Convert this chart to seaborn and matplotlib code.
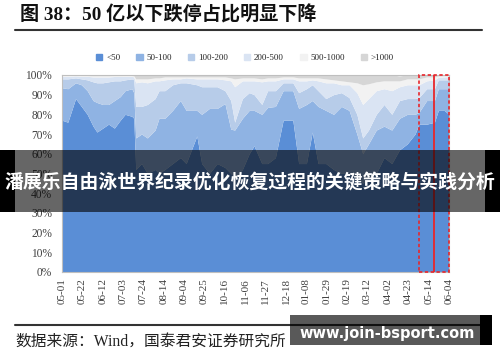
import numpy as np
import seaborn as sns
import matplotlib.pyplot as plt
from matplotlib.patches import Rectangle, Patch

# day offset from 05-01
days = [0, 6, 14, 20, 26, 32, 36, 42, 48, 54, 60, 65, 72, 74,
        76, 82, 88, 96, 100, 106, 114, 122, 128, 139, 144, 152, 160, 168,
        174, 178, 186, 193, 198, 206, 212, 220, 228, 238, 244, 252, 258, 264,
        272, 280, 288, 296, 304, 310, 316, 324, 332, 340, 348, 356, 364, 368,
        376, 384, 388, 394, 399]

# share of limit-down stocks by market cap bucket (%)
lt50 = [77, 76, 88, 84, 80, 74, 71, 73, 75, 73, 77, 80, 79, 78,
        52, 55, 50, 52, 50, 52, 55, 58, 55, 69, 55, 50, 55, 53,
        50, 48, 52, 60, 64, 55, 55, 58, 77, 77, 55, 55, 71, 55,
        55, 52, 50, 50, 48, 45, 48, 50, 58, 55, 62, 65, 70, 75,
        75, 76, 82, 82, 80]
b50_100 = [16.5, 17, 8, 11, 12, 13, 15, 12, 10, 14, 12, 12, 14, 13,
           16, 15, 18, 20, 28, 26, 27, 29, 27, 13, 25, 33, 28, 32.5,
           22.5, 24, 26, 22, 18, 25, 28.5, 26, 15, 15, 28, 30, 16, 29,
           27, 28, 34, 32, 22, 15, 17, 22, 16, 17, 16, 15, 10, 6,
           12, 11, 11, 11, 13]
b100_200 = [4.5, 5, 2.5, 3, 5.5, 9.5, 10, 11, 11.5, 10, 8, 5.5, 5, 6.5,
            16, 14, 17, 16, 14, 14, 13, 9, 14, 13, 14, 11, 11, 6.5,
            14.5, 4, 10, 9, 8, 5, 8.5, 8, 4, 4, 8, 8, 8, 8,
            6, 10, 7, 6.5, 10, 8, 7, 8, 11, 8, 9, 8, 8, 7.5,
            6, 6, 4.5, 4.5, 4.5]
b200_500 = [1.3, 1.3, 1, 1.3, 1.8, 2.5, 3, 3, 2.5, 2.2, 2.2, 1.8, 1.3, 1.5,
            12, 12.5, 11, 9, 5, 5.5, 3, 2, 2.5, 3, 4, 4, 4, 5.5,
            10, 18, 9, 6, 7, 11.5, 5, 5, 2, 2, 6, 4, 2.5, 5,
            8, 6, 4, 6.5, 11, 17, 16, 12, 8, 12, 7, 7, 7, 6.5,
            4, 4.5, 1.3, 1.5, 1.5]
b500_1000 = [0.4, 0.4, 0.3, 0.4, 0.4, 0.6, 0.6, 0.6, 0.6, 0.5, 0.5, 0.4, 0.4, 0.6,
             2, 1.5, 2, 1.5, 1.5, 1.5, 1, 1, 0.5, 1, 1, 1, 1, 1.5,
             1.5, 4, 1.5, 1.5, 1.5, 1.5, 1.5, 1.5, 1, 1, 1.5, 1.5, 1, 1.5,
             2, 1.5, 2, 1.5, 5, 10, 7.5, 4.5, 4, 5, 3, 3, 3, 3,
             2, 1.5, 0.7, 0.6, 0.6]
gt1000 = [0.3, 0.3, 0.2, 0.3, 0.3, 0.4, 0.4, 0.4, 0.4, 0.3, 0.3, 0.3, 0.3, 0.4,
          2, 2, 2, 1.5, 1.5, 1, 1, 1, 1, 1, 1, 1, 1, 1,
          1.5, 2, 1.5, 1.5, 1.5, 2, 1.5, 1.5, 1, 1, 1.5, 1.5, 1.5, 1.5,
          2, 2.5, 3, 3.5, 4, 5, 4.5, 3.5, 3, 3, 2.5, 2, 2, 2,
          1, 1, 0.5, 0.4, 0.4]

labels = ["<50", "50-100", "100-200", "200-500", "500-1000", ">1000"]
colors = ["#5A8ED6", "#8FB3E3", "#B7CCE9", "#DAE4F3", "#F2F2F2", "#D6D6D6"]

tick_days = list(range(0, 400, 21))
tick_labels = ["05-01", "05-22", "06-12", "07-03", "07-24", "08-14", "09-04",
               "09-25", "10-16", "11-06", "11-27", "12-18", "01-08", "01-29",
               "02-19", "03-12", "04-02", "04-23", "05-14", "06-04"]

sns.set_style("white")
serif = ["Liberation Serif", "Noto Sans CJK SC"]

fig = plt.figure(figsize=(5, 3.62), dpi=100)
ax = fig.add_axes([0.124, 0.249, 0.774, 0.544])

ax.stackplot(days, lt50, b50_100, b100_200, b200_500, b500_1000, gt1000,
             colors=colors, linewidth=0)
ax.set_xlim(0, 399)
ax.set_ylim(0, 100)

ax.set_yticks(range(0, 101, 10))
ax.set_yticklabels([f"{v}%" for v in range(0, 101, 10)],
                   family="Liberation Serif", fontsize=8.3, color="#404040")
ax.set_xticks(tick_days)
ax.set_xticklabels(tick_labels, rotation=90, family="Liberation Serif",
                   fontsize=8, color="#404040")
ax.tick_params(axis="x", direction="out", length=3, color="#A0A0A0", width=0.6, pad=1.5)
ax.tick_params(axis="y", length=0, pad=7)
for s in ax.spines.values():
    s.set_color("#BFBFBF")
    s.set_linewidth(0.8)

# highlighted window
ax.add_patch(Rectangle((368, 0), 31, 100, fill=False, ec="#E8262B", lw=1.2,
                       ls=(0, (2, 1.5)), clip_on=False, zorder=5))
ax.plot([384, 384], [0, 100], color="#E8262B", lw=1.3, zorder=5)

handles = [Patch(color=c, label=l) for c, l in zip(colors, labels)]
fig.legend(handles=handles, loc="center", bbox_to_anchor=(0.49, 0.84), ncol=6,
           frameon=False, handlelength=0.7, handleheight=0.7,
           handletextpad=0.4, columnspacing=1.8,
           prop={"family": "Liberation Serif", "size": 6.5})

# title and rules
fig.text(0.04, 0.958, "图 38：50 亿以下跌停占比明显下降", family=serif, weight="bold",
         fontsize=13.8, va="center", ha="left", color="#111111")
fig.add_artist(plt.Line2D([0.03, 0.964], [0.918, 0.918], color="#333333", lw=1.5))
fig.add_artist(plt.Line2D([0.03, 0.964], [0.102, 0.102], color="#333333", lw=1.5))
fig.text(0.03, 0.056, "数据来源：Wind，国泰君安证券研究所", family=serif,
         fontsize=11.3, va="center", ha="left", color="#222222")

# overlay banner
fig.add_artist(Rectangle((0, 0.414), 0.03, 0.172, transform=fig.transFigure,
                         color="black", lw=0, zorder=6))
fig.add_artist(Rectangle((0.97, 0.414), 0.03, 0.172, transform=fig.transFigure,
                         color="black", lw=0, zorder=6))
fig.add_artist(Rectangle((0, 0.414), 1, 0.172, transform=fig.transFigure,
                         color="black", alpha=0.6, lw=0, zorder=6))
fig.text(0.5, 0.494, "潘展乐自由泳世界纪录优化恢复过程的关键策略与实践分析",
         family=["Noto Sans CJK SC", "DejaVu Sans"], weight="bold", fontsize=13.6,
         color="white", ha="center", va="center", zorder=7)

# watermark box
fig.add_artist(Rectangle((0.58, 0.047), 0.38, 0.083, transform=fig.transFigure,
                         color="black", alpha=0.65, lw=0, zorder=6))
fig.add_artist(Rectangle((0.96, 0.047), 0.024, 0.083, transform=fig.transFigure,
                         color="black", lw=0, zorder=6))
fig.text(0.774, 0.08, "www.join-bsport.com", family="DejaVu Sans", weight="bold",
         fontsize=10.5, color="white", ha="center", va="center", zorder=7)

fig.savefig("out.png", dpi=100)
